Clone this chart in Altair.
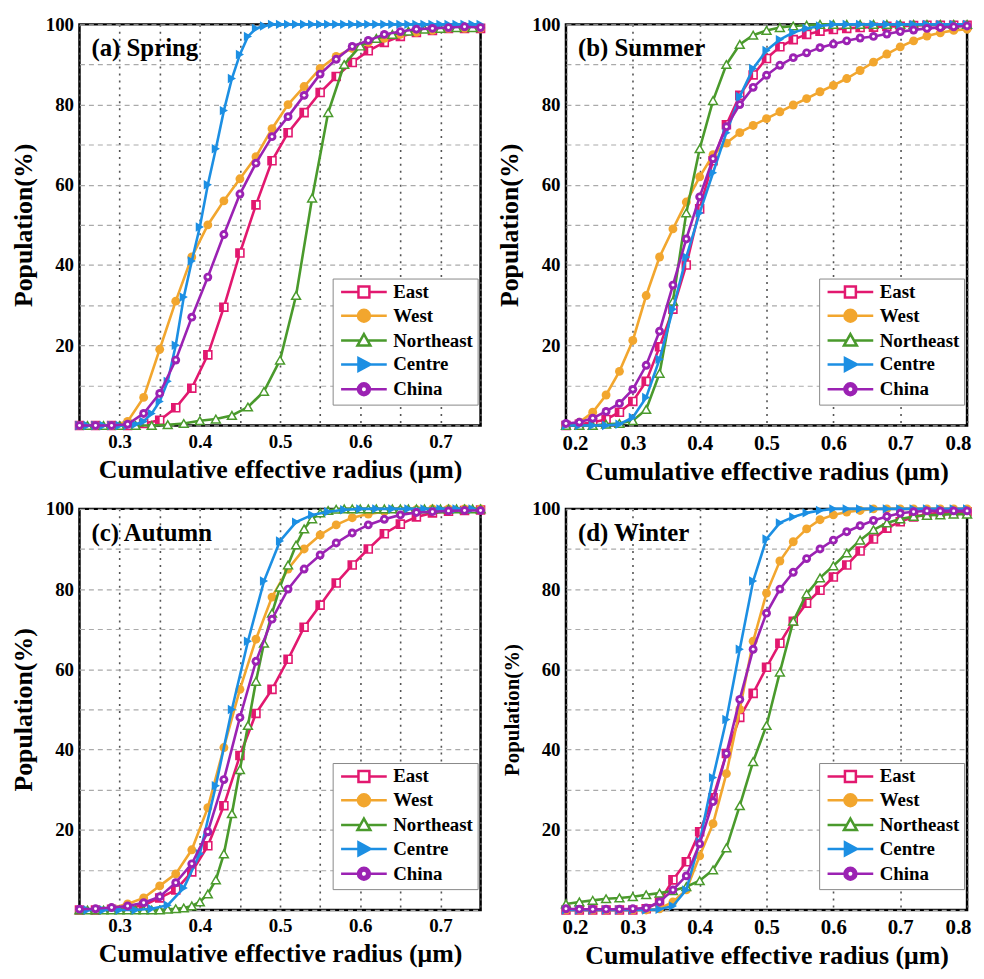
import altair as alt
import pandas as pd

SERIF = "Liberation Serif"
SERIES = ["East", "West", "Northeast", "Centre", "China"]
COLORS = ["#E2186F", "#F2A62E", "#4A9A2C", "#1C8FE3", "#9B22B3"]
FILLS = ["#FFFFFF", "#F2A62E", "#FFFFFF", "#1C8FE3", "#9B22B3"]
X_TITLE = "Cumulative effective radius (μm)"
Y_TITLE = "Population(%)"

# ---------------- (a) Spring ----------------
A_EAST = [0, 0, 0, 0, 0.5, 1.3, 4.4, 9.3, 17.6, 29.5, 43, 55, 66, 73, 78, 83, 87, 90.5,
          93.4, 95.5, 97, 98, 98.5, 99, 99, 99]                      # x 0.25..0.75 step .02
A_WEST = [0, 0, 0, 1, 7, 19, 31, 42, 50, 56, 61.5, 67, 74, 80, 84.5, 89, 92, 94, 95.5,
          96.5, 97.5, 98, 98.5, 99, 99, 99]                          # x 0.25..0.75 step .02
A_NE = [0, 0, 0, 0, 0, 0.2, 0.5, 1.2, 1.6, 2.5, 4.6, 8.5, 16.3, 32.4, 56.7, 78, 90, 94.6,
        96.5, 97.5, 98.3, 98.8, 99, 99.2, 99.2]                      # x 0.26..0.74 step .02
A_CENTRE = [0, 0, 0, 0, 0, 0, 0, 0.3, 1, 3, 6, 11, 20, 32, 41, 49.5, 60, 69, 78.5, 86.5,
            92.5, 97, 99, 99.6] + [100] * 27                         # x 0.25..0.75 step .01
A_CHINA = [0, 0, 0, 0.3, 3, 8, 16.3, 27, 37, 47.6, 57.7, 65.4, 72, 77, 82.3, 87.6, 91.3,
           94.5, 96, 97.5, 98.2, 98.8, 99, 99.2, 99.4, 99.2]         # x 0.25..0.75 step .02

# ---------------- (b) Summer ----------------
B_EAST = [0, 0.3, 0.8, 1.5, 3.3, 6, 11, 19.6, 29, 40, 54, 66, 75, 82.3, 87.4, 91.5, 94.4,
          96.2, 97.5, 98.3, 98.7, 99, 99.2, 99.3, 99.5, 99.5, 99.7, 99.8, 99.8, 99.8, 99.8]
B_WEST = [0, 0.8, 3.3, 7.6, 13.5, 21.2, 32.4, 42, 49, 55.7, 62, 67.5, 70.4, 73, 74.8, 76.5,
          78.2, 79.9, 81.5, 83.2, 84.8, 86.5, 88.5, 90.6, 92.6, 94.4, 95.9, 97.1, 97.9, 98.5, 98.8]
B_NE = [0, 0, 0, 0.3, 0.5, 1.2, 4, 13, 31, 53, 69, 81, 90, 95, 97.3, 98.5, 99.2, 99.6,
        99.8] + [100] * 12
B_CENTRE = [0, 0, 0, 0, 0.3, 2, 7, 16.5, 29, 42, 53, 63, 73, 82, 89, 93.5, 96.2, 98, 99,
            99.6] + [100] * 11
B_CHINA = [0.5, 0.8, 1.8, 3.5, 5.5, 9, 15, 23.5, 35, 46.5, 57, 66.5, 74.5, 80, 84.3, 87.3,
           89.8, 91.7, 92.9, 94.2, 95.1, 95.9, 96.6, 97, 97.6, 98.2, 98.6, 99, 99.2, 99.4, 99.6]

# ---------------- (c) Autumn ----------------
C_EAST = [0, 0, 0.2, 0.5, 1.2, 3, 5, 9.5, 16, 26, 38.5, 49, 55, 62.5, 70.5, 76, 81.5, 86,
          90, 93.8, 96.2, 98, 99, 99.4, 99.6, 99.7]
C_WEST = [0, 0, 0.5, 1.5, 3, 6, 9, 15, 25.5, 40.5, 55, 67.5, 78, 85, 90, 93.5, 96, 97.8,
          98.7, 99.3, 99.6, 99.8, 100, 100, 100, 100]
C_NE = [0] * 11 + [0.2, 0.3, 0.5, 1, 2, 4, 7.5, 14, 24, 35, 46, 57, 66.5, 74, 80.5, 86, 91,
                   95, 97.5, 99, 99.6, 99.9] + [100] * 18
C_CENTRE = [0, 0, 0, 0, 0.3, 1.2, 5.5, 14, 31, 50, 67, 82, 92, 96.7, 98.5, 99.3, 99.8] + [100] * 8
C_CHINA = [0.2, 0.3, 0.6, 1, 1.8, 3.3, 6.8, 11.5, 19.5, 32.5, 48, 62, 72.5, 80, 85, 88.5,
           91.5, 94, 96, 97.4, 98.5, 99.1, 99.3, 99.5, 99.6, 99.6]

# ---------------- (d) Winter ----------------
D_EAST = [0, 0, 0, 0, 0, 0, 0.3, 2, 7.5, 12, 19.5, 28, 39, 48, 54, 60.5, 66.5, 72, 76.5,
          79.7, 83, 86, 89.5, 92.5, 95.2, 96.8, 98, 98.7, 99, 99.2, 99.3]
D_WEST = [0] * 7 + [0.3, 2, 5, 13.5, 21.5, 34, 50, 67, 79, 87, 91.8, 95, 97.3, 98.5, 99.2,
                    99.6] + [100] * 8
D_NE = [1.5, 2, 2.4, 2.8, 3, 3.3, 3.8, 4.2, 4.8, 5.8, 7.3, 10, 15.5, 26, 37, 46, 59.3, 72,
        78.8, 82.8, 85.8, 89, 92.2, 94.8, 96.5, 97.5, 98.1, 98.4, 98.5, 98.7, 98.7]
D_CENTRE = [0] * 7 + [0.2, 1, 5, 17, 33, 47.5, 65, 82, 92.5, 96.5, 98, 99, 99.6] + [100] * 11
D_CHINA = [0.3, 0.2, 0.2, 0.2, 0.2, 0.3, 0.5, 2, 5, 8.5, 16.5, 27, 39, 52.5, 65, 74, 80,
           84.2, 87.6, 90, 92.2, 94.3, 95.8, 97.1, 98.1, 98.9, 99.3, 99.5, 99.5, 99.5, 99.5]

PANELS = [
    dict(label="(a) Spring", dom=[0.25, 0.75], xlab=19, ytit=26,
         series={"East": (0.25, 0.02, A_EAST), "West": (0.25, 0.02, A_WEST),
                 "Northeast": (0.26, 0.02, A_NE), "Centre": (0.25, 0.01, A_CENTRE),
                 "China": (0.25, 0.02, A_CHINA)}),
    dict(label="(b) Summer", dom=[0.2, 0.8], xlab=21, ytit=26,
         series={"East": (0.2, 0.02, B_EAST), "West": (0.2, 0.02, B_WEST),
                 "Northeast": (0.2, 0.02, B_NE), "Centre": (0.2, 0.02, B_CENTRE),
                 "China": (0.2, 0.02, B_CHINA)}),
    dict(label="(c) Autumn", dom=[0.25, 0.75], xlab=19, ytit=26,
         series={"East": (0.25, 0.02, C_EAST), "West": (0.25, 0.02, C_WEST),
                 "Northeast": (0.25, 0.01, C_NE), "Centre": (0.26, 0.02, C_CENTRE),
                 "China": (0.25, 0.02, C_CHINA)}),
    dict(label="(d) Winter", dom=[0.2, 0.8], xlab=21, ytit=21,
         series={"East": (0.2, 0.02, D_EAST), "West": (0.2, 0.02, D_WEST),
                 "Northeast": (0.2, 0.02, D_NE), "Centre": (0.2, 0.02, D_CENTRE),
                 "China": (0.2, 0.02, D_CHINA)}),
]

# legend symbols: line + marker (unit = 5 px at symbolSize 100)
LEG_PATHS = [
    "M-1,0H2.5M4.7,0H8.2M2.5,-1.1H4.7V1.1H2.5Z",
    "M-1,0H8.2M2.4,0A1.2,1.2 0 1,1 4.8,0A1.2,1.2 0 1,1 2.4,0Z",
    "M-1,0H2.87M4.33,0H8.2M3.6,-1.3L4.9,1L2.3,1Z",
    "M-1,0H8.2M4.9,0L2.5,-1.3L2.5,1.3Z",
    "M-1,0H2.4M4.8,0H8.2M2.4,0A1.2,1.2 0 1,1 4.8,0A1.2,1.2 0 1,1 2.4,0Z"
    "M2.95,0A0.65,0.65 0 1,0 4.25,0A0.65,0.65 0 1,0 2.95,0Z",
]


def build_df(series):
    rows = []
    for name, (start, step, vals) in series.items():
        for i, v in enumerate(vals):
            rows.append({"x": round(start + i * step, 3), "y": v, "series": name})
    return pd.DataFrame(rows)


def panel(p):
    df = build_df(p["series"])
    lo, hi = p["dom"]
    n = int(round((hi - lo) / 0.05)) + 1
    xvals = [round(lo + 0.05 * i, 2) for i in range(n)]
    x = alt.X("x:Q", scale=alt.Scale(domain=p["dom"], nice=False, zero=False),
              axis=alt.Axis(values=xvals, title=X_TITLE,
                            labelExpr="(round(datum.value*100) % 10 == 0) ? format(datum.value, '.1f') : ''",
                            labelFontSize=p["xlab"], labelOverlap=False, labelFlush=True,
                            labelFlushOffset=4, labelPadding=7, titlePadding=5, titleFontSize=26,
                            gridDash=[2, 5], gridColor="#555555", gridWidth=1.6))
    y = alt.Y("y:Q", scale=alt.Scale(domain=[0, 100], nice=False),
              axis=alt.Axis(values=list(range(0, 101, 10)), title=Y_TITLE,
                            labelExpr="(datum.value % 20 == 0 && datum.value > 0) ? datum.label : ''",
                            labelFontSize=19, labelOverlap=False, labelFlush=False,
                            labelPadding=6, titlePadding=9, titleFontSize=p["ytit"],
                            gridDash=[5, 4], gridColor="#AAAAAA", gridWidth=1.2))
    base = alt.Chart(df).encode(x=x, y=y)
    layers = []
    for i, s in enumerate(SERIES):
        sub = base.transform_filter(alt.datum.series == s)
        c = COLORS[i]
        layers.append(sub.mark_line(color=c, strokeWidth=2.6))
        if s == "East":
            layers.append(sub.mark_point(shape="square", size=64, filled=True, fill="white",
                                         stroke=c, strokeWidth=1.6, opacity=1))
            layers.append(sub.mark_point(shape="M-1,-1H0V1H-1Z", size=64, filled=True,
                                         fill=c, strokeWidth=0, opacity=1))
        elif s == "West":
            layers.append(sub.mark_point(shape="circle", size=80, filled=True, fill=c,
                                         strokeWidth=0, opacity=1))
        elif s == "Northeast":
            layers.append(sub.mark_point(shape="triangle-up", size=80, filled=True, fill="white",
                                         stroke=c, strokeWidth=1.5, opacity=1))
        elif s == "Centre":
            layers.append(sub.mark_point(shape="triangle-right", size=90, filled=True, fill=c,
                                         strokeWidth=0, opacity=1))
        else:
            layers.append(sub.mark_point(shape="circle", size=80, filled=True, fill=c,
                                         strokeWidth=0, opacity=1))
            layers.append(sub.mark_point(shape="circle", size=9, filled=True, fill="white",
                                         strokeWidth=0, opacity=1))
    leg = alt.Legend(title=None, orient="none", legendX=255, legendY=256,
                     labelFont=SERIF, labelFontWeight="bold", labelFontSize=19,
                     labelColor="black", symbolSize=100, symbolStrokeWidth=2.5,
                     labelOffset=38, padding=4, rowPadding=2, strokeColor="#888888",
                     fillColor="white", symbolOpacity=1, labelLimit=300)
    legend_layer = base.transform_filter("false").mark_point(filled=True, opacity=1).encode(
        stroke=alt.Stroke("series:N", scale=alt.Scale(domain=SERIES, range=COLORS), legend=leg),
        fill=alt.Fill("series:N", scale=alt.Scale(domain=SERIES, range=FILLS), legend=leg),
        shape=alt.Shape("series:N", scale=alt.Scale(domain=SERIES, range=LEG_PATHS), legend=leg),
    )
    layers.append(legend_layer)
    label = alt.Chart(pd.DataFrame({"t": [p["label"]]})).mark_text(
        align="left", baseline="top", dx=12, dy=12, font=SERIF, fontWeight="bold",
        fontSize=25, color="black").encode(x=alt.datum(lo), y=alt.datum(100), text="t:N")
    layers.append(label)
    return alt.layer(*layers).properties(width=404, height=404)


def indep(ch):
    return ch.resolve_scale(stroke="independent", fill="independent", shape="independent") \
             .resolve_legend(stroke="independent", fill="independent", shape="independent")


row1 = indep(alt.hconcat(panel(PANELS[0]), panel(PANELS[1]), spacing=6))
row2 = indep(alt.hconcat(panel(PANELS[2]), panel(PANELS[3]), spacing=11))
chart = indep(alt.vconcat(row1, row2, spacing=12)).properties(
    background="white", padding={"left": 1, "top": 2, "right": 0, "bottom": 0}
).configure_view(stroke="black", strokeWidth=2.5).configure_axis(
    labelFont=SERIF, labelFontWeight="bold", labelColor="black",
    titleFont=SERIF, titleFontWeight="bold", titleColor="black",
    domain=False, ticks=False, grid=True
)

chart.save("out.html", embed_options={"renderer": "svg", "actions": False})
